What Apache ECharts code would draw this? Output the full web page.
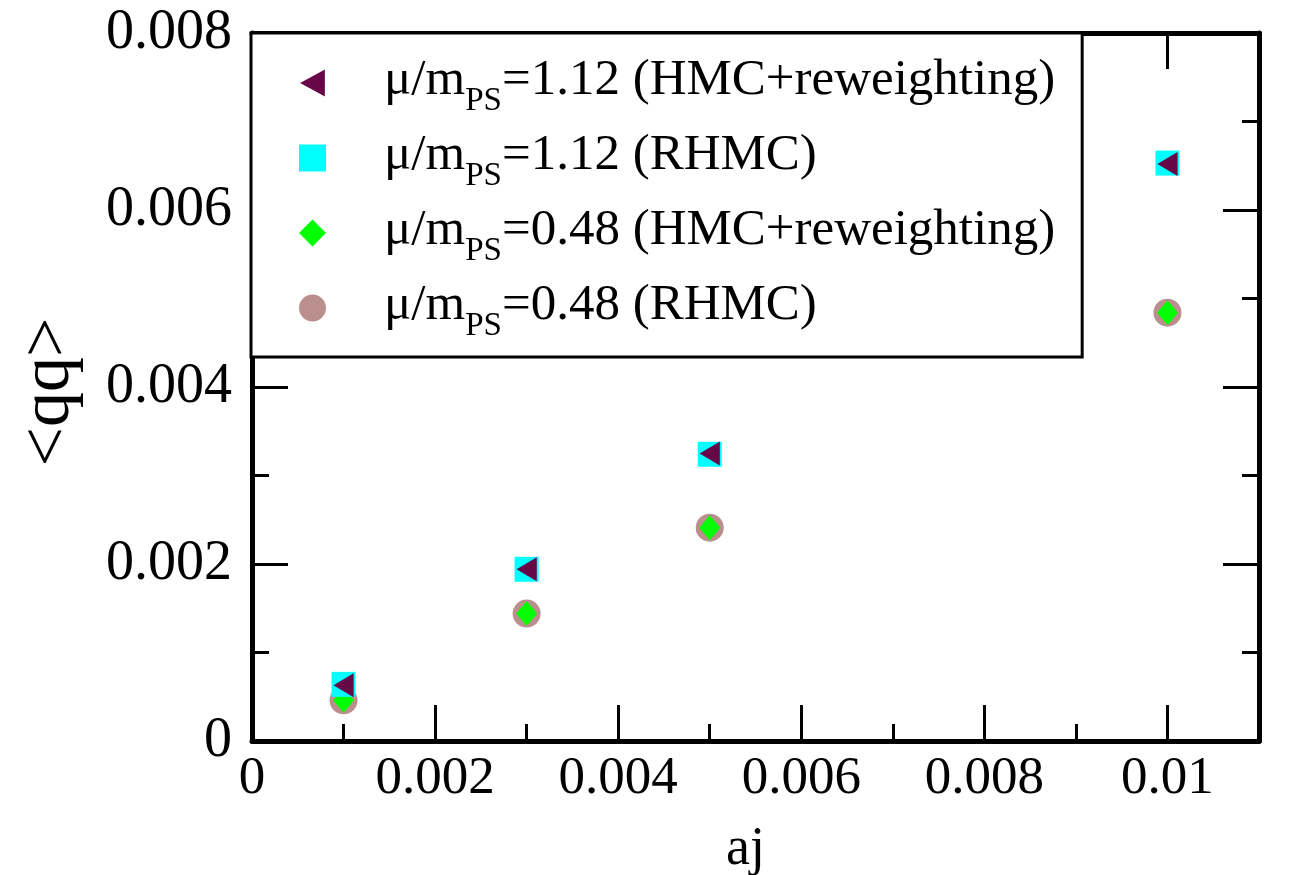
<!DOCTYPE html>
<html>
<head>
<meta charset="utf-8">
<script src="https://cdn.jsdelivr.net/npm/echarts@6/dist/echarts.min.js"></script>
<style>
  html, body { margin: 0; padding: 0; background: #fff; }
  #chart { width: 1293px; height: 875px; }
</style>
</head>
<body>
<div id="chart"></div>
<script>
// Source current coupling aj on the horizontal axis
const ajValues = [0.001, 0.003, 0.005, 0.01];

// Diquark condensate <qq> for each run
const qqHmcRew112 = [0.00063, 0.00194, 0.00325, 0.00652];
const qqRhmc112   = [0.00064, 0.00194, 0.00324, 0.00653];
const qqHmcRew048 = [0.00046, 0.00144, 0.00241, 0.00484];
const qqRhmc048   = [0.00046, 0.00144, 0.00241, 0.00484];

// Legend pieces: mu/m_PS ratio and algorithm
const muRatios = ['1.12', '1.12', '0.48', '0.48'];
const methods = ['HMC+reweighting', 'RHMC', 'HMC+reweighting', 'RHMC'];

const SERIF = '"Liberation Serif", "Times New Roman", serif';

const seriesNames = muRatios.map((r, i) => 'μ/mPS=' + r + ' (' + methods[i] + ')');

const pairs = arr => ajValues.map((x, i) => [x, arr[i]]);

// left-pointing triangle
const leftTriangle = 'path://M0,12L22,0L22,24Z';

const styles = [
  { data: qqHmcRew112, symbol: leftTriangle, size: [22, 24], color: '#670748', z: 5 },
  { data: qqRhmc112, symbol: 'rect', size: [24, 25], color: '#00ffff', z: 4 },
  { data: qqHmcRew048, symbol: 'diamond', size: [21, 25], color: '#00ff00', z: 3 },
  { data: qqRhmc048, symbol: 'circle', size: [28, 28], color: '#bc8f8f', z: 2 }
];

const fmtTick = v => {
  const k = Math.round(v * 1000);
  if (k % 2 !== 0) return '';
  return k === 0 ? '0' : String(parseFloat(v.toFixed(4)));
};

const frameLine = { show: true, onZero: false, lineStyle: { color: '#000', width: 5 } };
const noLine = { show: false, onZero: false };

function xAxisPair(position, withLabels) {
  return [
    {
      type: 'value', position: position, min: 0, max: 0.011, interval: 0.002,
      axisLine: frameLine,
      axisTick: { show: true, inside: true, length: 36, lineStyle: { color: '#000', width: 3 } },
      axisLabel: {
        show: withLabels, formatter: fmtTick, margin: 12,
        fontFamily: SERIF, fontSize: 53, color: '#000'
      },
      splitLine: { show: false },
      name: withLabels ? 'aj' : '',
      nameLocation: 'middle', nameGap: 82,
      nameTextStyle: { fontFamily: SERIF, fontSize: 54, color: '#000', padding: [0, 20, 0, 0] }
    },
    {
      type: 'value', position: position, min: 0, max: 0.011, interval: 0.001,
      axisLine: noLine,
      axisTick: { show: true, inside: true, length: 17, lineStyle: { color: '#000', width: 3 } },
      axisLabel: { show: false },
      splitLine: { show: false }
    }
  ];
}

function yAxisPair(position, withLabels) {
  return [
    {
      type: 'value', position: position, min: 0, max: 0.008, interval: 0.002,
      axisLine: frameLine,
      axisTick: { show: true, inside: true, length: 36, lineStyle: { color: '#000', width: 3 } },
      axisLabel: {
        show: withLabels, formatter: fmtTick, margin: 20,
        fontFamily: SERIF, fontSize: 56, color: '#000'
      },
      splitLine: { show: false },
      name: withLabels ? '<qq>' : '',
      nameLocation: 'middle', nameGap: 167, nameRotate: 90,
      nameTextStyle: { fontFamily: SERIF, fontSize: 70, color: '#000', padding: [0, 10, 0, 0] }
    },
    {
      type: 'value', position: position, min: 0, max: 0.008, interval: 0.001,
      axisLine: noLine,
      axisTick: { show: true, inside: true, length: 17, lineStyle: { color: '#000', width: 3 } },
      axisLabel: { show: false },
      splitLine: { show: false }
    }
  ];
}

const chart = echarts.init(document.getElementById('chart'), null, { renderer: 'canvas' });

chart.setOption({
  animation: false,
  backgroundColor: '#fff',
  grid: { left: 252, right: 34, top: 33, bottom: 134, outerBoundsMode: 'none', containLabel: false },
  xAxis: [...xAxisPair('bottom', true), ...xAxisPair('top', false)],
  yAxis: [...yAxisPair('left', true), ...yAxisPair('right', false)],
  legend: {
    orient: 'vertical',
    left: 251, top: 33,
    padding: [22, 27, 14, 48],
    itemGap: 12,
    itemWidth: 27, itemHeight: 27,
    backgroundColor: '#fff',
    borderColor: '#000', borderWidth: 3,
    z: 10,
    data: seriesNames,
    formatter: name => {
      const i = seriesNames.indexOf(name);
      return '{g| }{a|μ/m}{sub|PS}{a|=' + muRatios[i] + ' (' + methods[i] + ')}';
    },
    textStyle: {
      color: '#000',
      rich: {
        g: { width: 53, fontSize: 20, lineHeight: 56, verticalAlign: 'top' },
        a: { fontFamily: SERIF, fontSize: 51, lineHeight: 56, verticalAlign: 'top', color: '#000' },
        sub: { fontFamily: SERIF, fontSize: 33, lineHeight: 34, padding: [30, 0, 0, 0], verticalAlign: 'top', color: '#000' }
      }
    }
  },
  series: styles.map((s, i) => ({
    type: 'scatter',
    name: seriesNames[i],
    xAxisIndex: 0, yAxisIndex: 0,
    data: pairs(s.data),
    symbol: s.symbol,
    symbolSize: s.size,
    symbolKeepAspect: true,
    itemStyle: { color: s.color, opacity: 1 },
    z: s.z
  }))
});
</script>
</body>
</html>
